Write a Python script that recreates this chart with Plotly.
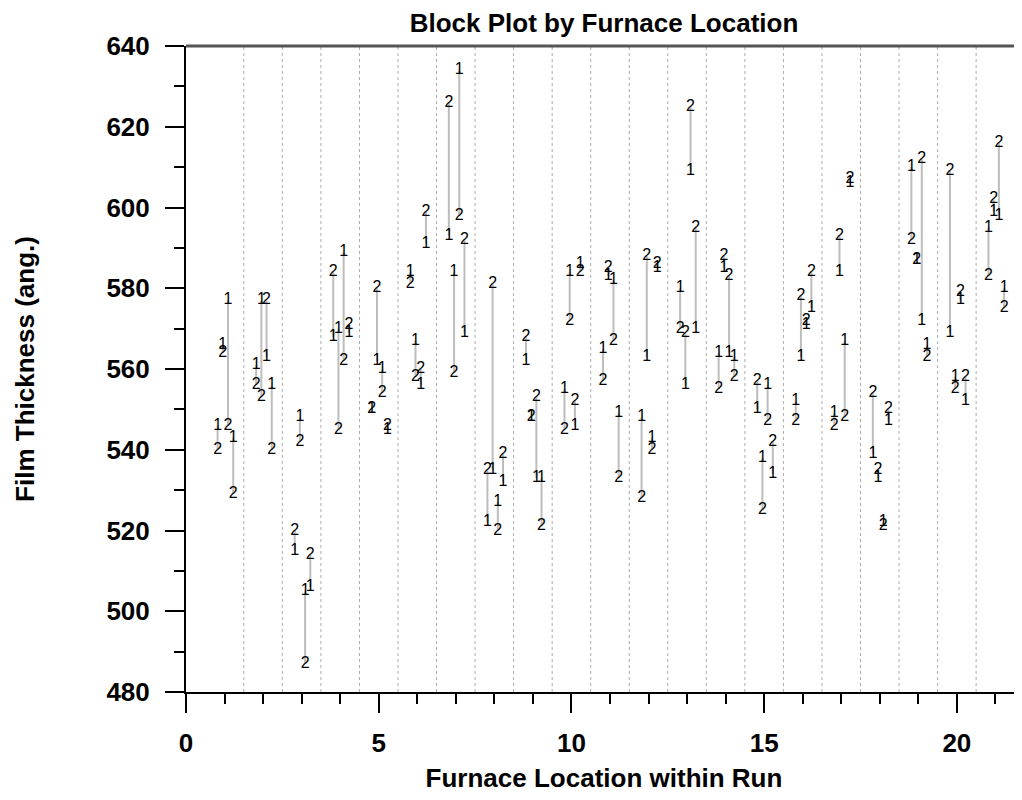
import plotly.graph_objects as go

# ---- data (furnace film thickness: run x zone, wafer 1 and wafer 2) ----
runs = list(range(1, 22))
zones = [1, 2, 3, 4]

wafer1_thickness = [
    546, 566, 577, 543,
    561, 577, 563, 556,
    515, 548, 505, 506,
    568, 570, 589, 569,
    550, 562, 560, 545,
    584, 567, 556, 591,
    593, 584, 634, 569,
    522, 535, 527, 532,
    562, 548, 533, 533,
    555, 584, 546, 586,
    565, 583, 582, 549,
    548, 563, 543, 585,
    580, 556, 609, 570,
    564, 585, 564, 563,
    550, 538, 556, 534,
    552, 563, 571, 575,
    549, 584, 567, 606,
    539, 533, 522, 547,
    610, 587, 572, 566,
    569, 558, 577, 552,
    595, 599, 598, 580,
]
wafer2_thickness = [
    540, 564, 546, 529,
    556, 553, 577, 540,
    520, 542, 487, 514,
    584, 545, 562, 571,
    550, 580, 554, 546,
    581, 558, 560, 599,
    626, 559, 598, 592,
    535, 581, 520, 539,
    568, 548, 553, 521,
    545, 572, 552, 584,
    557, 585, 567, 533,
    528, 588, 540, 586,
    570, 569, 625, 595,
    555, 588, 583, 558,
    557, 525, 547, 542,
    547, 578, 572, 584,
    546, 593, 548, 607,
    554, 535, 521, 550,
    592, 587, 612, 563,
    609, 555, 579, 558,
    583, 602, 616, 575,
]
wafer_labels = ["1", "2"]
x_tick_values = [0, 5, 10, 15, 20]
y_tick_values = [480, 500, 520, 540, 560, 580, 600, 620, 640]

# ---- positions of the blocks inside each run ----
zone_offset = {1: -0.18, 2: -0.045, 3: 0.09, 4: 0.225}
xs = [r + zone_offset[z] for r in runs for z in zones]

line_x, line_y = [], []
for x, a, b in zip(xs, wafer1_thickness, wafer2_thickness):
    line_x += [x, x, None]
    line_y += [a, b, None]

fig = go.Figure()

fig.add_trace(go.Scatter(
    x=line_x, y=line_y, mode="lines",
    line=dict(color="#bdbdbd", width=2),
    hoverinfo="skip", showlegend=False,
))

label_font = dict(family="Liberation Sans, Arial, sans-serif", size=16, color="black")
fig.add_trace(go.Scatter(
    x=xs, y=wafer1_thickness, mode="text",
    text=[wafer_labels[0]] * len(xs), textposition="middle center",
    textfont=label_font, name="Wafer 1", showlegend=False,
))
fig.add_trace(go.Scatter(
    x=xs, y=wafer2_thickness, mode="text",
    text=[wafer_labels[1]] * len(xs), textposition="middle center",
    textfont=label_font, name="Wafer 2", showlegend=False,
))

shapes = []
for r in runs[:-1]:
    shapes.append(dict(
        type="line", xref="x", yref="y",
        x0=r + 0.5, x1=r + 0.5, y0=480, y1=640,
        line=dict(color="#ababab", width=1, dash="dot"), layer="below",
    ))
shapes.append(dict(
    type="line", xref="paper", yref="paper",
    x0=0, x1=1, y0=1, y1=1,
    line=dict(color="#555555", width=3),
))

FONT = "Liberation Sans, Arial, sans-serif"
tick_font = dict(family=FONT, size=26, color="black", weight="bold")
axis_title_font = dict(family=FONT, size=26, color="black", weight="bold")
title_font = dict(family=FONT, size=26, color="black", weight="bold")

# page body has an 8px margin; the figure is sized so the plot sits where the reference has it
W, H = 1014, 792
fig.update_layout(
    width=W, height=H,
    margin=dict(l=178, r=0, t=38, b=108, autoexpand=False),
    paper_bgcolor="white", plot_bgcolor="white",
    shapes=shapes,
    title=dict(
        text="Block Plot by Furnace Location",
        x=0.5, xref="paper", xanchor="center",
        y=1 - 15 / H, yref="container", yanchor="middle",
        font=title_font,
    ),
    xaxis=dict(
        range=[0, 21.69], showgrid=False, zeroline=False,
        showline=True, linecolor="black", linewidth=2,
        ticks="outside", ticklen=19, tickwidth=2, tickcolor="black",
        tickvals=x_tick_values, tickfont=tick_font, ticklabelstandoff=8,
        minor=dict(dtick=1, tick0=0, ticks="outside", ticklen=10, tickwidth=2, tickcolor="black"),
        title=dict(text="Furnace Location within Run", font=axis_title_font, standoff=12),
        automargin=False,
    ),
    yaxis=dict(
        range=[480, 640], showgrid=False, zeroline=False,
        showline=True, linecolor="black", linewidth=2,
        ticks="outside", ticklen=19, tickwidth=2, tickcolor="black",
        tickvals=y_tick_values, tickfont=tick_font, ticklabelstandoff=10,
        minor=dict(dtick=10, tick0=480, ticks="outside", ticklen=10, tickwidth=2, tickcolor="black"),
        title=dict(text="Film Thickness (ang.)", font=axis_title_font, standoff=64),
        automargin=False,
    ),
)

fig.write_html("out.html")
